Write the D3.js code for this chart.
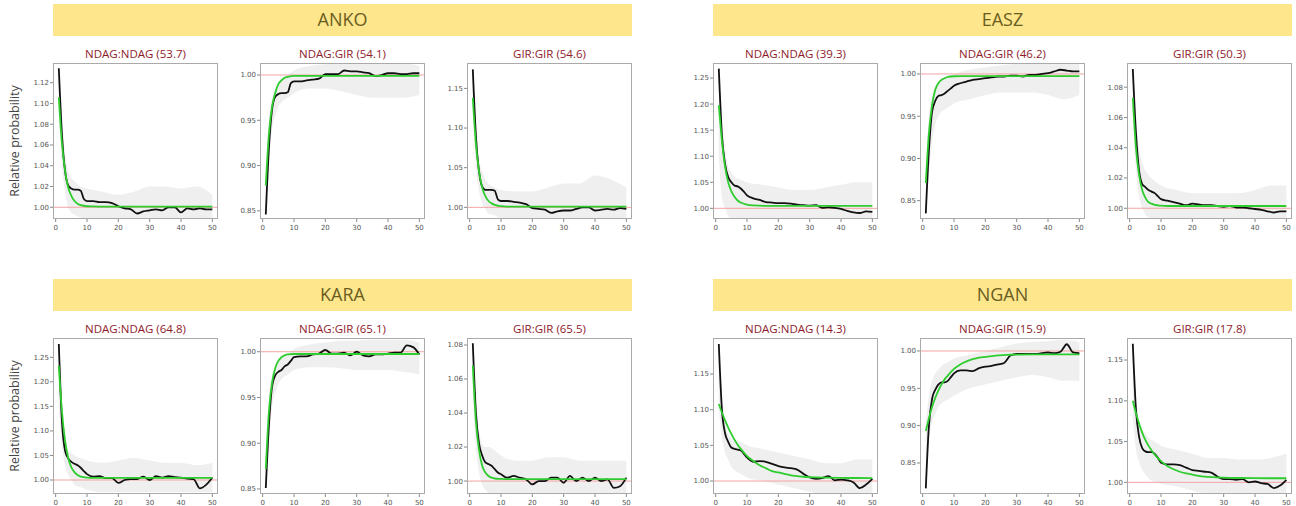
<!DOCTYPE html>
<html>
<head>
<meta charset="utf-8">
<script src="https://cdn.jsdelivr.net/npm/d3@7"></script>
<style>
  body { margin: 0; background: #fff; }
  .tick-label { font-family: "DejaVu Sans", sans-serif; font-size: 7px; fill: #555; }
  .pair-title { font-family: "Open Sans", sans-serif; font-size: 11.5px; fill: #8e1b2c; }
  .group-title { font-family: "Open Sans", sans-serif; font-size: 18px; fill: #6b5d22; }
  .y-label { font-family: "Open Sans", sans-serif; font-size: 12.5px; fill: #444; }
</style>
</head>
<body>
<div id="chart"></div>
<script>
// Groups, pair types and the scores shown in each panel title
const groups = ['ANKO', 'EASZ', 'KARA', 'NGAN'];
const pairs = ['NDAG:NDAG', 'NDAG:GIR', 'GIR:GIR'];
const scores = [[53.7, 54.1, 54.6], [39.3, 46.2, 50.3], [64.8, 65.1, 65.5], [14.3, 15.9, 17.8]];

// y ranges and ticks per panel (group x pair)
const yDomains = [
    [[0.9887, 1.139], [0.841, 1.0133], [0.9853, 1.182]],
    [[0.9795, 1.2788], [0.8283, 1.013], [0.9929, 1.096]],
    [[0.9715, 1.2893], [0.8445, 1.015], [0.9924, 1.0841]],
    [[0.9818, 1.2005], [0.8085, 1.0174], [0.9857, 1.177]]
];
const ticksSmall = [1.00, 1.02, 1.04, 1.06, 1.08, 1.10, 1.12];
const ticksMid = [1.00, 1.05, 1.10, 1.15, 1.20, 1.25];
const ticksShort = [1.00, 1.05, 1.10, 1.15];
const ticksLow = [0.85, 0.90, 0.95, 1.00];
const yTicks = [
    [ticksSmall, ticksLow, ticksMid],
    [ticksMid, ticksLow, ticksSmall],
    [ticksMid, ticksLow, ticksSmall],
    [ticksShort, ticksLow, ticksShort]
];
const xTicks = [0, 10, 20, 30, 40, 50];

// Observed curve (black)
const xObs = [1, 2, 3, 4, 5, 6, 7, 8, 9, 10, 12, 14, 16, 18, 20, 22, 24, 26, 28, 30, 32, 34, 36, 38, 40, 42, 44, 46, 48, 50];
const obsANKO = [
    [1.134, 1.07, 1.035, 1.021, 1.018, 1.017, 1.017, 1.016, 1.008, 1.006, 1.006, 1.005, 1.005, 1.004, 1.001, 0.999, 0.998, 0.994, 0.996, 0.997, 0.998, 0.997, 1.0, 1.0, 0.995, 0.999, 0.998, 0.999, 0.998, 0.998],
    [0.846, 0.92, 0.962, 0.976, 0.979, 0.98, 0.98, 0.981, 0.991, 0.993, 0.993, 0.994, 0.995, 0.996, 1.001, 1.001, 1.001, 1.005, 1.004, 1.004, 1.003, 1.002, 0.999, 1.0, 1.002, 1.002, 1.001, 1.001, 1.002, 1.002],
    [1.174, 1.09, 1.045, 1.026, 1.022, 1.022, 1.022, 1.021, 1.01, 1.008, 1.008, 1.007, 1.006, 1.004, 0.999, 0.998, 0.997, 0.993, 0.995, 0.996, 0.996, 0.998, 1.0, 1.0, 0.996, 0.997, 0.998, 0.997, 0.999, 0.998]
];
const obsEASZ = [
    [1.268, 1.14, 1.085, 1.06, 1.05, 1.044, 1.042, 1.038, 1.032, 1.025, 1.019, 1.016, 1.012, 1.011, 1.010, 1.010, 1.009, 1.007, 1.006, 1.005, 1.006, 1.001, 1.002, 1.001, 0.999, 0.995, 0.992, 0.991, 0.994, 0.993],
    [0.835, 0.91, 0.955, 0.968, 0.974, 0.975, 0.977, 0.98, 0.983, 0.986, 0.989, 0.991, 0.993, 0.994, 0.995, 0.996, 0.997, 0.997, 0.998, 0.998, 0.997, 0.999, 0.999, 1.000, 1.001, 1.003, 1.005, 1.004, 1.003, 1.003],
    [1.092, 1.05, 1.025, 1.016, 1.014, 1.012, 1.011, 1.01, 1.008, 1.006, 1.005, 1.004, 1.003, 1.002, 1.003, 1.0025, 1.002, 1.002, 1.0015, 1.001, 1.0015, 1.0005, 1.0005, 1.0, 0.9995, 0.999, 0.998, 0.9972, 0.998, 0.998]
];
const obsKARA = [
    [1.277, 1.12, 1.06, 1.044, 1.037, 1.033, 1.03, 1.025, 1.018, 1.012, 1.007, 1.008, 1.004, 1.004, 0.994, 1.0, 1.002, 1.002, 1.007, 1.0, 1.008, 1.005, 1.008, 1.006, 1.005, 1.003, 1.002, 0.983, 0.99, 1.005],
    [0.851, 0.92, 0.962, 0.974, 0.978, 0.98, 0.984, 0.986, 0.99, 0.994, 0.995, 0.995, 0.997, 0.998, 1.002, 0.998, 0.998, 0.999, 0.996, 1.0, 0.996, 0.995, 0.997, 0.997, 0.998, 0.999, 0.999, 1.007, 1.005, 0.997],
    [1.081, 1.04, 1.022, 1.015, 1.011, 1.01, 1.009, 1.007, 1.005, 1.004, 1.002, 1.003, 1.002, 1.001, 0.998, 1.0, 1.0, 1.002, 1.002, 0.999, 1.003, 1.0, 1.002, 1.0, 1.002, 1.0, 1.001, 0.996, 0.997, 1.002]
];
const obsNGAN = [
    [1.192, 1.10, 1.067, 1.055, 1.047, 1.045, 1.044, 1.043, 1.038, 1.033, 1.027, 1.028, 1.027, 1.024, 1.021, 1.019, 1.018, 1.016, 1.01, 1.005, 1.003, 1.004, 1.007, 1.001, 1.002, 1.001, 0.998, 0.99, 0.995, 1.003],
    [0.816, 0.90, 0.936, 0.948, 0.955, 0.958, 0.958, 0.96, 0.965, 0.97, 0.974, 0.974, 0.973, 0.977, 0.979, 0.98, 0.982, 0.984, 0.994, 0.996, 0.996, 0.996, 0.996, 0.997, 0.998, 0.997, 0.999, 1.009, 0.998, 0.997],
    [1.17, 1.09, 1.056, 1.042, 1.038, 1.037, 1.037, 1.035, 1.03, 1.024, 1.022, 1.022, 1.021, 1.018, 1.015, 1.014, 1.013, 1.012, 1.007, 1.004, 1.004, 1.003, 1.004, 1.0, 1.001, 0.999, 0.998, 0.993, 0.996, 1.003]
];

// Fitted curve (green)
const xFit = [1, 2, 3, 4, 5, 6, 7, 8, 10, 12, 14, 16, 18, 20, 22, 24, 26, 28, 30, 35, 40, 45, 50];
const fitANKO = [
    [1.106, 1.062, 1.035, 1.019, 1.011, 1.006, 1.0035, 1.002, 1.001, 1.0008, 1.0007, 1.0007, 1.0007, 1.0007, 1.0007, 1.0007, 1.0007, 1.0007, 1.0007, 1.0007, 1.0007, 1.0007, 1.0007],
    [0.878, 0.935, 0.965, 0.98, 0.99, 0.994, 0.997, 0.998, 0.999, 0.999, 0.999, 0.999, 0.999, 0.999, 0.999, 0.999, 0.999, 0.999, 0.999, 0.999, 0.999, 0.999, 0.999],
    [1.138, 1.08, 1.045, 1.025, 1.014, 1.008, 1.005, 1.003, 1.0015, 1.001, 1.001, 1.001, 1.001, 1.001, 1.001, 1.001, 1.001, 1.001, 1.001, 1.001, 1.001, 1.001, 1.001]
];
const fitEASZ = [
    [1.198, 1.13, 1.08, 1.05, 1.033, 1.022, 1.015, 1.011, 1.007, 1.0055, 1.005, 1.0047, 1.0045, 1.0045, 1.0045, 1.0045, 1.0045, 1.0045, 1.0045, 1.0045, 1.0045, 1.0045, 1.0045],
    [0.871, 0.93, 0.963, 0.981, 0.989, 0.993, 0.995, 0.9965, 0.9973, 0.9975, 0.9975, 0.9975, 0.9975, 0.9975, 0.9975, 0.9975, 0.9975, 0.9975, 0.9975, 0.9975, 0.9975, 0.9975, 0.9975],
    [1.073, 1.04, 1.022, 1.012, 1.007, 1.004, 1.003, 1.0022, 1.0017, 1.0015, 1.0015, 1.0015, 1.0015, 1.0015, 1.0015, 1.0015, 1.0015, 1.0015, 1.0015, 1.0015, 1.0015, 1.0015, 1.0015]
];
const fitKARA = [
    [1.233, 1.14, 1.08, 1.045, 1.026, 1.016, 1.01, 1.007, 1.005, 1.0045, 1.0045, 1.0045, 1.0045, 1.0045, 1.0045, 1.0045, 1.0045, 1.0045, 1.0045, 1.0045, 1.0045, 1.0045, 1.0045],
    [0.872, 0.935, 0.966, 0.982, 0.99, 0.994, 0.996, 0.997, 0.9975, 0.9975, 0.9975, 0.9975, 0.9975, 0.9975, 0.9975, 0.9975, 0.9975, 0.9975, 0.9975, 0.9975, 0.9975, 0.9975, 0.9975],
    [1.068, 1.035, 1.018, 1.009, 1.005, 1.003, 1.002, 1.0015, 1.0013, 1.0012, 1.0012, 1.0012, 1.0012, 1.0012, 1.0012, 1.0012, 1.0012, 1.0012, 1.0012, 1.0012, 1.0012, 1.0012, 1.0012]
];
const fitNGAN = [
    [1.108, 1.096, 1.085, 1.075, 1.066, 1.058, 1.051, 1.045, 1.035, 1.028, 1.022, 1.018, 1.014, 1.012, 1.010, 1.008, 1.007, 1.006, 1.0055, 1.0047, 1.0043, 1.0042, 1.004],
    [0.893, 0.91, 0.925, 0.937, 0.947, 0.955, 0.962, 0.967, 0.976, 0.982, 0.986, 0.989, 0.991, 0.992, 0.993, 0.994, 0.9945, 0.995, 0.9952, 0.9955, 0.9955, 0.9955, 0.9955],
    [1.10, 1.085, 1.072, 1.061, 1.052, 1.045, 1.039, 1.034, 1.026, 1.02, 1.016, 1.013, 1.011, 1.0095, 1.008, 1.007, 1.0065, 1.006, 1.0057, 1.0053, 1.0051, 1.005, 1.005]
];

// Spread of the replicate curves (grey): upper and lower edge
const xBand = [1, 2, 3, 4, 5, 6, 8, 10, 15, 20, 25, 30, 35, 40, 45, 50];
const bandHiANKO = [
    [1.14, 1.09, 1.05, 1.035, 1.028, 1.025, 1.02, 1.018, 1.015, 1.012, 1.015, 1.02, 1.02, 1.018, 1.02, 1.012],
    [0.88, 0.95, 0.975, 0.985, 0.99, 0.995, 1.0, 1.005, 1.01, 1.012, 1.013, 1.013, 1.013, 1.013, 1.013, 1.01],
    [1.18, 1.10, 1.06, 1.045, 1.035, 1.03, 1.025, 1.022, 1.02, 1.02, 1.025, 1.03, 1.03, 1.04, 1.035, 1.025]
];
const bandLoANKO = [
    [1.09, 1.04, 1.015, 1.0, 0.995, 0.993, 0.99, 0.989, 0.989, 0.989, 0.989, 0.989, 0.989, 0.989, 0.989, 0.989],
    [0.845, 0.90, 0.94, 0.955, 0.965, 0.97, 0.975, 0.98, 0.985, 0.985, 0.982, 0.978, 0.975, 0.975, 0.975, 0.978],
    [1.12, 1.05, 1.02, 1.005, 0.998, 0.992, 0.99, 0.986, 0.986, 0.986, 0.986, 0.986, 0.986, 0.986, 0.986, 0.986]
];
const bandHiEASZ = [
    [1.28, 1.17, 1.11, 1.08, 1.07, 1.06, 1.055, 1.05, 1.045, 1.04, 1.035, 1.035, 1.04, 1.045, 1.05, 1.05],
    [0.88, 0.95, 0.975, 0.985, 0.99, 0.993, 0.997, 1.0, 1.005, 1.008, 1.01, 1.012, 1.013, 1.013, 1.013, 1.013],
    [1.095, 1.06, 1.04, 1.03, 1.025, 1.022, 1.018, 1.015, 1.012, 1.01, 1.01, 1.01, 1.01, 1.012, 1.015, 1.015]
];
const bandLoEASZ = [
    [1.1, 1.02, 1.0, 0.985, 0.98, 0.98, 0.98, 0.98, 0.98, 0.98, 0.98, 0.98, 0.98, 0.98, 0.98, 0.98],
    [0.83, 0.88, 0.92, 0.94, 0.95, 0.955, 0.96, 0.965, 0.97, 0.975, 0.978, 0.978, 0.978, 0.975, 0.97, 0.975],
    [1.06, 1.025, 1.008, 1.0, 0.996, 0.994, 0.993, 0.993, 0.993, 0.993, 0.993, 0.993, 0.993, 0.993, 0.993, 0.993]
];
const bandHiKARA = [
    [1.28, 1.15, 1.09, 1.06, 1.055, 1.05, 1.045, 1.04, 1.035, 1.04, 1.045, 1.04, 1.035, 1.035, 1.03, 1.035],
    [0.88, 0.95, 0.975, 0.985, 0.99, 0.993, 0.997, 1.003, 1.008, 1.01, 1.012, 1.012, 1.013, 1.013, 1.013, 1.01],
    [1.08, 1.05, 1.03, 1.022, 1.02, 1.02, 1.018, 1.015, 1.012, 1.012, 1.014, 1.014, 1.012, 1.012, 1.012, 1.012]
];
const bandLoKARA = [
    [1.15, 1.07, 1.03, 1.01, 1.0, 0.99, 0.985, 0.98, 0.975, 0.975, 0.975, 0.975, 0.975, 0.975, 0.975, 0.975],
    [0.85, 0.90, 0.94, 0.955, 0.965, 0.97, 0.975, 0.98, 0.983, 0.983, 0.982, 0.98, 0.98, 0.98, 0.978, 0.975],
    [1.05, 1.02, 1.005, 0.998, 0.995, 0.993, 0.993, 0.993, 0.993, 0.993, 0.993, 0.993, 0.993, 0.993, 0.993, 0.993]
];
const bandHiNGAN = [
    [1.19, 1.12, 1.08, 1.065, 1.06, 1.058, 1.055, 1.05, 1.045, 1.04, 1.035, 1.03, 1.025, 1.025, 1.03, 1.03],
    [0.90, 0.94, 0.96, 0.97, 0.975, 0.98, 0.985, 0.99, 0.995, 1.0, 1.005, 1.01, 1.012, 1.013, 1.015, 1.012],
    [1.17, 1.10, 1.075, 1.065, 1.06, 1.055, 1.05, 1.045, 1.04, 1.035, 1.03, 1.03, 1.028, 1.028, 1.03, 1.035]
];
const bandLoNGAN = [
    [1.10, 1.06, 1.04, 1.03, 1.02, 1.015, 1.01, 1.005, 1.0, 0.995, 0.99, 0.985, 0.982, 0.982, 0.982, 0.982],
    [0.82, 0.88, 0.905, 0.915, 0.925, 0.93, 0.935, 0.94, 0.95, 0.955, 0.96, 0.965, 0.968, 0.965, 0.96, 0.96],
    [1.08, 1.04, 1.025, 1.015, 1.01, 1.005, 1.0, 0.998, 0.995, 0.99, 0.986, 0.986, 0.986, 0.986, 0.986, 0.986]
];

const observed = [obsANKO, obsEASZ, obsKARA, obsNGAN];
const fitted = [fitANKO, fitEASZ, fitKARA, fitNGAN];
const bandHi = [bandHiANKO, bandHiEASZ, bandHiKARA, bandHiNGAN];
const bandLo = [bandLoANKO, bandLoEASZ, bandLoKARA, bandLoNGAN];

// Layout
const W = 1296, H = 506;
const colLeft = [53, 713];
const rowTop = [63, 338];
const panelStep = 207, panelW = 165, panelH = 156, barW = 579, barH = 32;

const svg = d3.select('#chart').append('svg')
    .attr('width', W)
    .attr('height', H);

groups.forEach((group, gi) => {
    const col = gi % 2, row = Math.floor(gi / 2);
    const left0 = colLeft[col], top = rowTop[row];

    // Group header band
    svg.append('rect')
        .attr('x', left0)
        .attr('y', top - 59)
        .attr('width', barW)
        .attr('height', barH)
        .attr('fill', '#fde68c');
    svg.append('text')
        .attr('class', 'group-title')
        .attr('x', left0 + barW / 2)
        .attr('y', top - 59 + barH / 2)
        .attr('dy', '0.35em')
        .attr('text-anchor', 'middle')
        .text(group);

    if (col === 0) {
        svg.append('text')
            .attr('class', 'y-label')
            .attr('transform', `translate(19,${top + panelH / 2}) rotate(-90)`)
            .attr('text-anchor', 'middle')
            .text('Relative probability');
    }

    pairs.forEach((pair, pi) => {
        const left = left0 + pi * panelStep;
        const x = d3.scaleLinear().domain([-0.85, 51.8]).range([left, left + panelW]);
        const y = d3.scaleLinear().domain(yDomains[gi][pi]).range([top + panelH, top]);
        const g = svg.append('g');
        const clipId = `clip-${gi}-${pi}`;

        g.append('clipPath').attr('id', clipId)
            .append('rect')
            .attr('x', left).attr('y', top)
            .attr('width', panelW).attr('height', panelH);

        const plot = g.append('g').attr('clip-path', `url(#${clipId})`);

        // Replicate spread
        const area = d3.area()
            .x((d, i) => x(xBand[i]))
            .y0((d, i) => y(bandLo[gi][pi][i]))
            .y1((d, i) => y(bandHi[gi][pi][i]))
            .curve(d3.curveMonotoneX);
        plot.append('path')
            .datum(xBand)
            .attr('d', area)
            .attr('fill', '#efefef');

        // Reference line at 1.00
        plot.append('line')
            .attr('x1', left).attr('x2', left + panelW)
            .attr('y1', y(1)).attr('y2', y(1))
            .attr('stroke', '#f4a3a3')
            .attr('stroke-width', 1);

        // Observed curve
        const obsLine = d3.line()
            .x((d, i) => x(xObs[i]))
            .y(d => y(d))
            .curve(d3.curveMonotoneX);
        plot.append('path')
            .datum(observed[gi][pi])
            .attr('d', obsLine)
            .attr('fill', 'none')
            .attr('stroke', '#111')
            .attr('stroke-width', 1.8);

        // Fitted curve
        const fitLine = d3.line()
            .x((d, i) => x(xFit[i]))
            .y(d => y(d))
            .curve(d3.curveMonotoneX);
        plot.append('path')
            .datum(fitted[gi][pi])
            .attr('d', fitLine)
            .attr('fill', 'none')
            .attr('stroke', '#2ecc2e')
            .attr('stroke-width', 1.8);

        // Frame
        g.append('rect')
            .attr('x', left + 0.5).attr('y', top + 0.5)
            .attr('width', panelW - 1).attr('height', panelH - 1)
            .attr('fill', 'none')
            .attr('stroke', '#aaa');

        // x ticks
        xTicks.forEach(t => {
            g.append('line')
                .attr('x1', x(t)).attr('x2', x(t))
                .attr('y1', top + panelH).attr('y2', top + panelH + 3)
                .attr('stroke', '#888');
            g.append('text')
                .attr('class', 'tick-label')
                .attr('x', x(t))
                .attr('y', top + panelH + 11)
                .attr('text-anchor', 'middle')
                .text(t);
        });

        // y ticks
        yTicks[gi][pi].filter(t => t >= yDomains[gi][pi][0] && t <= yDomains[gi][pi][1]).forEach(t => {
            g.append('line')
                .attr('x1', left - 3).attr('x2', left)
                .attr('y1', y(t)).attr('y2', y(t))
                .attr('stroke', '#888');
            g.append('text')
                .attr('class', 'tick-label')
                .attr('x', left - 4)
                .attr('y', y(t))
                .attr('dy', '0.35em')
                .attr('text-anchor', 'end')
                .text(t.toFixed(2));
        });

        // Panel title
        svg.append('text')
            .attr('class', 'pair-title')
            .attr('x', left + panelW / 2)
            .attr('y', top - 5)
            .attr('text-anchor', 'middle')
            .text(`${pair} (${scores[gi][pi]})`);
    });
});
</script>
</body>
</html>
